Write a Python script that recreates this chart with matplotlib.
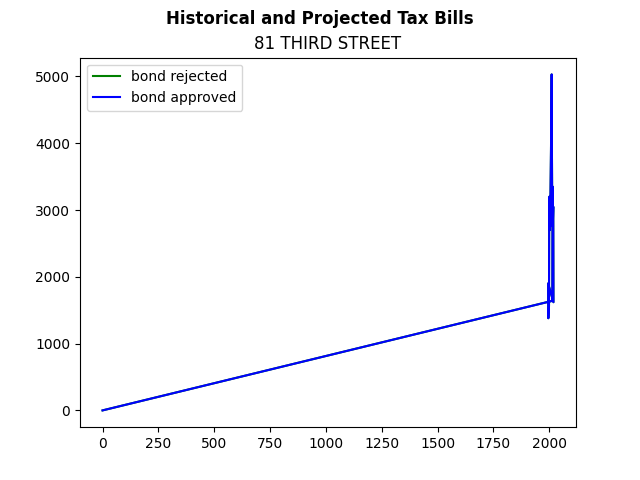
import matplotlib
matplotlib.use('Agg')
import matplotlib.pyplot as plt

# tax years as parsed (first record has a missing year -> 0)
years = [0, 2014, 2015, 2016, 2017, 2018, 2019,
         1995, 1996, 1997, 1998, 1999, 2000, 2001, 2002, 2003,
         2004, 2005, 2006, 2007, 2008, 2009, 2010, 2011, 2012, 2013]
bills_rejected = [0, 1640, 3350, 2750, 2900, 3050, 1620,
                  1900, 1380, 1450, 1500, 1560, 3150, 3200, 3000, 2700,
                  2800, 3000, 3300, 3600, 3900, 4300, 4700, 5030, 4000, 3300]
bills_approved = [0, 1640, 3350, 2750, 2900, 3050, 1620,
                  1900, 1380, 1450, 1500, 1560, 3150, 3200, 3000, 2700,
                  2800, 3000, 3300, 3600, 3900, 4300, 4700, 5030, 4000, 3300]

fig = plt.figure(figsize=(6.4, 4.8), dpi=100)
ax = fig.add_subplot(111)
ax.plot(years, bills_rejected, color='green', label='bond rejected')
ax.plot(years, bills_approved, color='blue', label='bond approved')
ax.set_title('81 THIRD STREET')
fig.suptitle('Historical and Projected Tax Bills', fontweight='bold')
ax.legend(loc='upper left')
fig.savefig('out.png')
